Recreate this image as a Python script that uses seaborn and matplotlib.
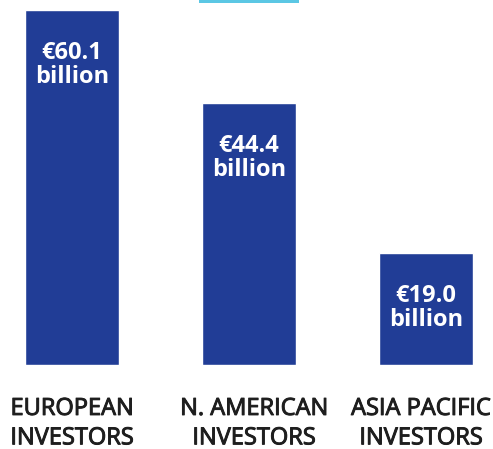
import matplotlib
matplotlib.use('Agg')
import matplotlib.pyplot as plt
import matplotlib.transforms as mtransforms
import matplotlib.patheffects as pe
import seaborn as sns
from matplotlib.patches import Rectangle

# Data
categories = ['EUROPEAN\nINVESTORS', 'N. AMERICAN\nINVESTORS', 'ASIA PACIFIC\nINVESTORS']
values = [60.1, 44.4, 19.0]
value_labels = ['€60.1\nbillion', '€44.4\nbillion', '€19.0\nbillion']

bar_color = '#213d96'
accent_color = '#5bc7e4'
label_color = '#1e1e1e'

sns.set_style('white')
plt.rcParams['font.family'] = ['Open Sans', 'DejaVu Sans']

fig = plt.figure(figsize=(4.93, 4.49), dpi=100, facecolor='white')
ax = fig.add_axes([0, 0.1871, 1, 0.8129])

sns.barplot(x=categories, y=values, color=bar_color, saturation=1, width=0.531, ax=ax)

ax.set_xlim(-0.4068, 2.3785)
ax.set_ylim(0, 61.79)

# Value labels inside the bars
for i, (v, lab) in enumerate(zip(values, value_labels)):
    ax.annotate(lab, xy=(i, v), xytext=(0, -31), textcoords='offset pixels',
                ha='center', va='top', color='white', fontsize=17,
                fontweight='bold', linespacing=1.0)

ax.set_xticks(range(len(categories)))
ax.set_xticklabels(categories, fontsize=17, color=label_color, linespacing=1.3)
ax.tick_params(axis='x', length=0, pad=23)
# the category labels sit a little off the bar centres in the reference,
# and a thin outline gives them the semibold look
for lbl, dx in zip(ax.get_xticklabels(), [0, 5, -5]):
    lbl.set_transform(lbl.get_transform() + mtransforms.ScaledTranslation(dx / 100, 0, fig.dpi_scale_trans))
    lbl.set_path_effects([pe.withStroke(linewidth=0.7, foreground=label_color)])
ax.set_yticks([])
ax.set_xlabel('')
ax.set_ylabel('')
sns.despine(ax=ax, left=True, bottom=True)

# Short accent line at the top of the picture
fig.add_artist(Rectangle((199 / 493, 1 - 2.5 / 449), 100 / 493, 2.5 / 449,
                         transform=fig.transFigure, color=accent_color, lw=0))

fig.savefig('out.png', dpi=100, facecolor='white')
